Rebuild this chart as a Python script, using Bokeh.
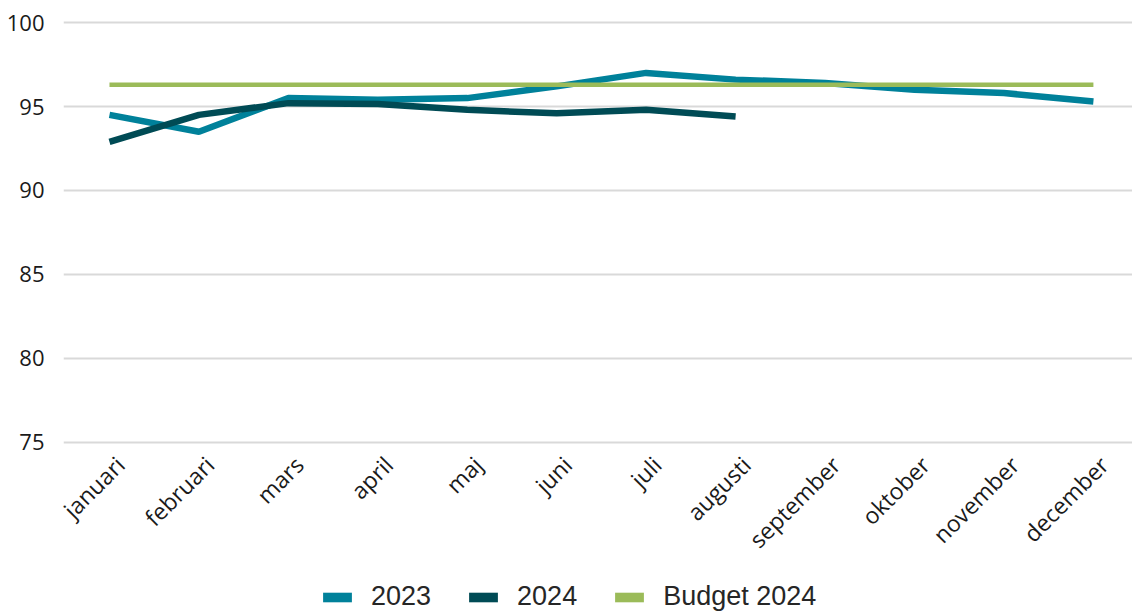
from bokeh.plotting import figure
from bokeh.models import Range1d, FixedTicker, Legend, LegendItem
from bokeh.layouts import column
from bokeh.embed import file_html
from bokeh.resources import INLINE
import math

months = ["januari", "februari", "mars", "april", "maj", "juni", "juli",
          "augusti", "september", "oktober", "november", "december"]
v2023 = [94.5, 93.5, 95.5, 95.4, 95.5, 96.2, 97.0, 96.6, 96.4, 96.0, 95.8, 95.3]
v2024 = [92.9, 94.5, 95.2, 95.15, 94.8, 94.6, 94.8, 94.4]
budget = [96.3, 96.3, 96.3, 96.3, 96.3, 96.3, 96.3, 96.3, 96.3, 96.3, 96.3, 96.3]
y_ticks = [75, 80, 85, 90, 95, 100]
series_names = ["2023", "2024", "Budget 2024"]

c2023 = "#00819A"
c2024 = "#004B55"
cbud = "#9BBB59"

idx = list(range(len(months)))
label_shift = 0.12
label_pos = [i + label_shift for i in idx]

p = figure(width=1132, height=570, output_backend="svg", toolbar_location=None,
           x_range=Range1d(-0.514, 11.437), y_range=Range1d(74.88, 101.31),
           min_border_left=63, min_border_right=0, min_border_top=0,
           min_border_bottom=126)
p.outline_line_color = None
p.background_fill_color = "white"
p.border_fill_color = "white"

p.line(idx, v2023, line_color=c2023, line_width=6.5)
p.line(idx[:len(v2024)], v2024, line_color=c2024, line_width=6.5)
p.line(idx, budget, line_color=cbud, line_width=4.5)

p.xgrid.visible = False
p.ygrid.grid_line_color = "#D9D9D9"
p.ygrid.grid_line_width = 2
p.yaxis.ticker = FixedTicker(ticks=y_ticks)
p.ygrid.ticker = FixedTicker(ticks=y_ticks)
p.yaxis.axis_line_color = None
p.yaxis.major_tick_line_color = None
p.yaxis.minor_tick_line_color = None
p.yaxis.major_label_standoff = 13
p.yaxis.major_label_text_font = "Open Sans"
p.yaxis.major_label_text_font_size = "22px"
p.yaxis.major_label_text_color = "#1a1a1a"

p.xaxis.ticker = FixedTicker(ticks=label_pos)
p.xaxis.major_label_overrides = {t: m for t, m in zip(label_pos, months)}
p.xaxis.axis_line_color = None
p.xaxis.major_tick_line_color = None
p.xaxis.minor_tick_line_color = None
p.xaxis.major_label_orientation = math.pi / 4
p.xaxis.major_label_standoff = 10
p.xaxis.major_label_text_font = "Open Sans"
p.xaxis.major_label_text_font_size = "23px"
p.xaxis.major_label_text_color = "#1a1a1a"

# legend strip below the chart (swatch renderers are zero-sized, so invisible)
lg = figure(width=1132, height=42, output_backend="svg", toolbar_location=None,
            x_range=Range1d(0, 1), y_range=Range1d(0, 1),
            x_axis_type=None, y_axis_type=None,
            min_border_left=0, min_border_right=0, min_border_top=0,
            min_border_bottom=0)
lg.outline_line_color = None
lg.grid.visible = False
s1 = lg.rect(x=[0.5], y=[0.5], width=0, height=0, fill_color=c2023, line_color=None)
s2 = lg.rect(x=[0.5], y=[0.5], width=0, height=0, fill_color=c2024, line_color=None)
s3 = lg.rect(x=[0.5], y=[0.5], width=0, height=0, fill_color=cbud, line_color=None)

legend = Legend(items=[LegendItem(label=series_names[0], renderers=[s1]),
                       LegendItem(label=series_names[1], renderers=[s2]),
                       LegendItem(label=series_names[2], renderers=[s3])],
                orientation="horizontal", location=(256, 0))
legend.glyph_width = 36
legend.glyph_height = 12
legend.label_standoff = 16
legend.spacing = 34
legend.padding = 0
legend.margin = 0
legend.border_line_color = None
legend.background_fill_alpha = 0
legend.label_text_font = "Liberation Sans"
legend.label_text_font_size = "27px"
legend.label_text_color = "#262626"
lg.add_layout(legend, "center")

layout = column(p, lg, spacing=0)
open("out.html", "w").write(file_html(layout, INLINE))
